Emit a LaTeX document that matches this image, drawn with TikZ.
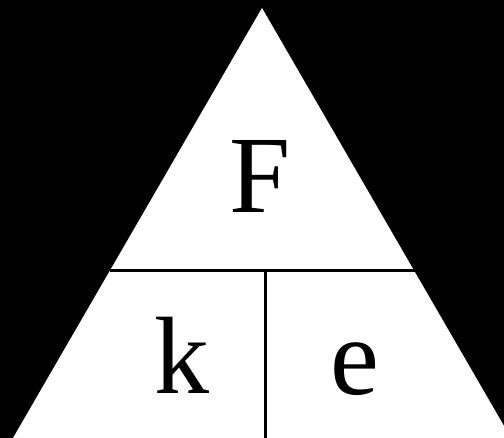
\documentclass[tikz,border=0pt]{standalone}
\usepackage{fontspec}
\setmainfont{Liberation Serif}
\tikzset{
  letter/.style={anchor=base,inner sep=0pt,font=\fontsize{82.5}{82.5}\selectfont,text=black},
  divider/.style={draw=black,line width=2.25pt},
}
\begin{document}
\begin{tikzpicture}[x=0.75pt,y=-0.75pt]
\useasboundingbox (0,0) rectangle (504,438);
\clip (0,0) rectangle (504,438);
\fill[black] (0,0) rectangle (504,438);

% triangle corners
\coordinate (apex) at (262,8);
\coordinate (baseleft) at (13,438);
\coordinate (baseright) at (511,438);
\fill[white] (apex) -- (baseleft) -- (baseright) -- cycle;

% dividers
\coordinate (midleft) at (110,270.5);
\coordinate (midright) at (414.5,270.5);
\coordinate (splittop) at (265,270.5);
\coordinate (splitbot) at (265,440);
\draw[divider] (midleft) -- (midright);
\draw[divider] (splittop) -- (splitbot);

% letters
\node[letter] (force) at (260,213) {F};
\node[letter] (spring) at (181.5,394) {k};
\node[letter] (stretch) at (354.5,395) {e};
\end{tikzpicture}
\end{document}
